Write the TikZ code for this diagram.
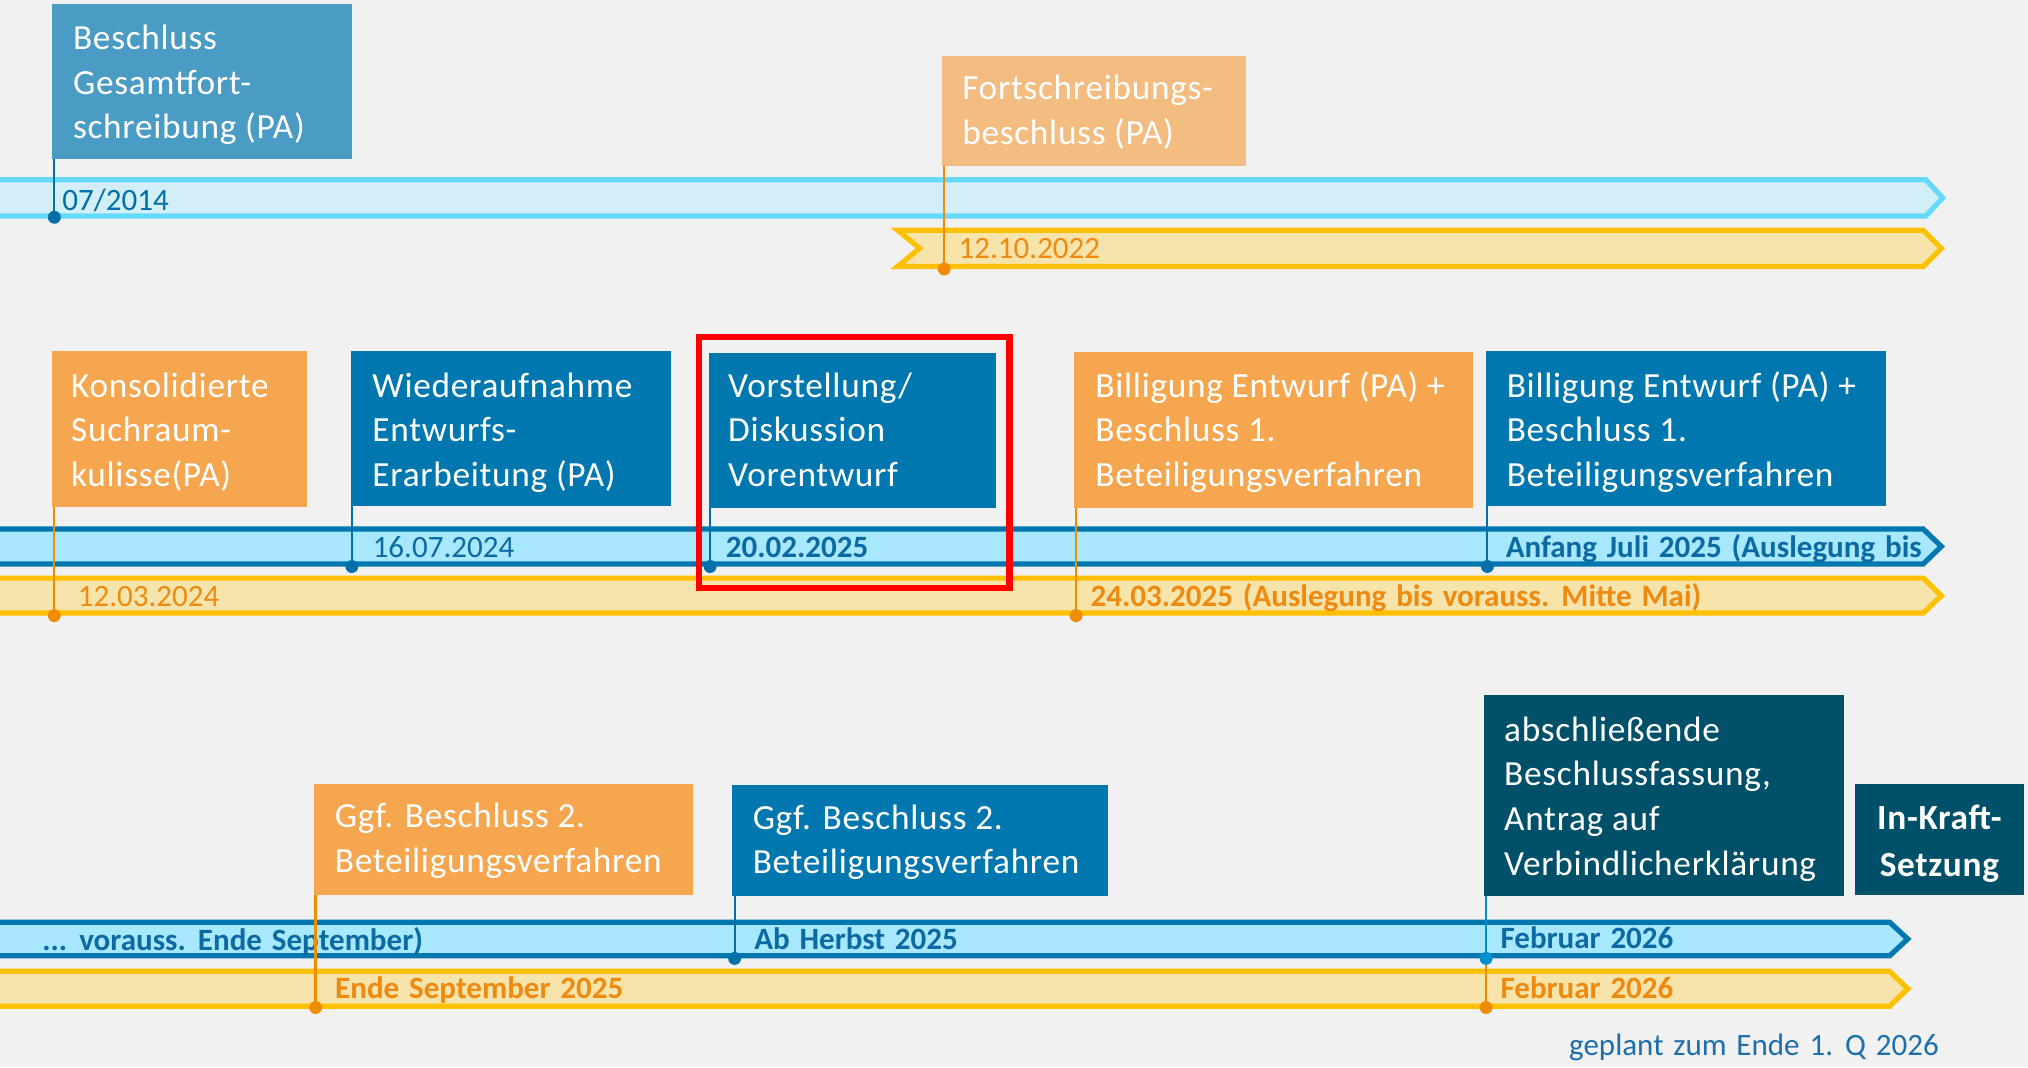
\documentclass[tikz,border=0pt]{standalone}
\usepackage{fontspec}
\setmainfont{Carlito}
\newfontfamily\boxfam{Carlito}[LetterSpace=2.0]
\newfontfamily\datefam{Carlito}[WordSpace=1.4]
\usetikzlibrary{calc}
\definecolor{bg}{HTML}{F1F1F1}
\definecolor{boxA}{HTML}{4A9CC5}
\definecolor{boxB}{HTML}{F3BC80}
\definecolor{boxO}{HTML}{F5A64F}
\definecolor{boxBl}{HTML}{0077AE}
\definecolor{boxD}{HTML}{00506A}
\definecolor{bandLf}{HTML}{D2EEF7}
\definecolor{bandLd}{HTML}{66D9FF}
\definecolor{bandBf}{HTML}{A8E8FF}
\definecolor{bandBd}{HTML}{0077AE}
\definecolor{bandYf}{HTML}{F7E4AA}
\definecolor{bandYd}{HTML}{FFC000}
\definecolor{tBlue}{HTML}{0A6AA1}
\definecolor{tOrange}{HTML}{EF8A11}
\definecolor{tGeplant}{HTML}{1C6FAA}
\definecolor{cBlue}{HTML}{0070A8}
\definecolor{cBlueL}{HTML}{0090D0}
\definecolor{cOrange}{HTML}{F08C00}
\newcommand\boxfont{\boxfam\fontsize{27.3}{34.7}\selectfont}
\newcommand\datefont{\datefam\fontsize{24}{28}\selectfont}
\tikzset{
  tlbox/.style={anchor=north west, inner ysep=0pt, outer sep=0pt, text=white, font=\boxfont},
  datetxt/.style={anchor=base west, inner sep=0pt, font=\datefont},
  bandL/.style={fill=bandLf, draw=bandLd, line width=4},
  bandB/.style={fill=bandBf, draw=bandBd, line width=4},
  bandY/.style={fill=bandYf, draw=bandYd, line width=4},
  conB/.style={draw=cBlue, line width=1.7},
  conBL/.style={draw=cBlueL, line width=1.7},
  conO/.style={draw=cOrange, line width=1.7},
}
% #1 name, #2 x, #3 y, #4 width, #5 height, #6 first baseline offset, #7 left pad, #8 fill, #9 text
\newcommand\mybox[9]{%
  \node[tlbox, fill=#8, inner xsep=#7pt] (#1) at (#2,#3)
  {\vrule width 0pt height #6pt depth \dimexpr #5pt-#6pt\relax
   \makebox[\dimexpr #4pt-#7pt-#7pt\relax][l]{\begin{tabular}[t]{@{}l@{}}#9\end{tabular}}};}
\begin{document}
\begin{tikzpicture}[x=1pt, y=-1pt]
\useasboundingbox (0,0) rectangle (1568,825);
\fill[bg] (0,0) rectangle (1568,825);

% bands
\path[bandL] (-10,139) -- (1489,139) -- (1502,153) -- (1489,167) -- (-10,167) -- cycle;
\path[bandY] (694,178) -- (1487,178) -- (1501,192) -- (1487,206) -- (694,206) -- (711,192) -- cycle;
\path[bandB] (-10,409) -- (1487,409) -- (1501,422.5) -- (1487,436) -- (-10,436) -- cycle;
\path[bandY] (-10,447) -- (1487,447) -- (1501,460.5) -- (1487,474) -- (-10,474) -- cycle;
\path[bandB] (-10,713) -- (1461,713) -- (1475,726) -- (1461,739) -- (-10,739) -- cycle;
\path[bandY] (-10,751) -- (1461,751) -- (1475,764.5) -- (1461,778) -- (-10,778) -- cycle;

% boxes
\mybox{b1}{40}{3}{232}{120}{35}{16.5}{boxA}{Beschluss\\Gesamtfort-\\schreibung (PA)}
\mybox{b2}{728}{43}{235}{85}{34}{16}{boxB}{Fortschreibungs-\\beschluss (PA)}
\mybox{b3}{40}{271}{197}{121}{36}{15}{boxO}{Konsolidierte\\Suchraum-\\kulisse(PA)}
\mybox{b4}{271}{271}{248}{120}{36}{17}{boxBl}{Wiederaufnahme\\Entwurfs-\\Erarbeitung (PA)}
\mybox{b5}{548}{273}{222}{120}{34}{15}{boxBl}{Vorstellung/\\Diskussion\\Vorentwurf}
\mybox{b6}{830}{272}{309}{121}{35}{17}{boxO}{Billigung Entwurf (PA) +\\Beschluss 1.\\Beteiligungsverfahren}
\mybox{b7}{1149}{271}{309}{120}{36}{16}{boxBl}{Billigung Entwurf (PA) +\\Beschluss 1.\\Beteiligungsverfahren}
\mybox{b8}{243}{606}{293}{86}{34}{16}{boxO}{Ggf. Beschluss 2.\\Beteiligungsverfahren}
\mybox{b9}{566}{607}{291}{86}{34}{16}{boxBl}{Ggf. Beschluss 2.\\Beteiligungsverfahren}
\mybox{b10}{1147}{537}{279}{156}{36}{16}{boxD}{abschließende\\Beschlussfassung,\\Antrag auf\\Verbindlicherklärung}
\node[tlbox, fill=boxD, inner xsep=0pt, font=\boxfam\fontsize{27.3}{37}\selectfont\bfseries] (b11) at (1434,606)
  {\vrule width 0pt height 35pt depth 51pt\makebox[131pt][c]{\begin{tabular}[t]{@{}c@{}}In-Kraft-\\Setzung\end{tabular}}};

% highlight
\draw[red, line width=5] (540.5,260.5) rectangle (780.5,454.5);

% band texts
\node[datetxt, text=cBlue] (t1) at (48,163) {07/2014};
\node[datetxt, text=tOrange] (t2) at (741,200) {12.10.2022};
\node[datetxt, text=tOrange] (t3) at (60,469) {12.03.2024};
\node[datetxt, text=tBlue] (t4) at (288,431) {16.07.2024};
\node[datetxt, text=tBlue, font=\datefont\bfseries] (t5) at (561,431) {20.02.2025};
\node[datetxt, text=tOrange, font=\datefont\bfseries] (t6) at (843,469) {24.03.2025 (Auslegung bis vorauss. Mitte Mai)};
\node[datetxt, text=tBlue, font=\datefont\bfseries] (t7) at (1164,431) {Anfang Juli 2025 (Auslegung bis};
\node[datetxt, text=tBlue, font=\datefont\bfseries] (t8) at (32.5,735) {... vorauss. Ende September)};
\node[datetxt, text=tBlue, font=\datefont\bfseries] (t9) at (583,734) {Ab Herbst 2025};
\node[datetxt, text=tOrange, font=\datefont\bfseries] (t10) at (259,772) {Ende September 2025};
\node[datetxt, text=tBlue, font=\datefont\bfseries] (t11) at (1160,733) {Februar 2026};
\node[datetxt, text=tOrange, font=\datefont\bfseries] (t12) at (1160,772) {Februar 2026};
\node[datetxt, text=tGeplant] (t13) at (1213,816) {geplant zum Ende 1. Q 2026};

% connectors
\coordinate (p1) at (42,168);
\coordinate (p2) at (730,208);
\coordinate (p3) at (42,476);
\coordinate (p4) at (272,438);
\coordinate (p5) at (549,438);
\coordinate (p6) at (832,476);
\coordinate (p7) at (1150,438);
\coordinate (p8) at (244,779);
\coordinate (p9) at (568,741);
\coordinate (p10) at (1149,741);
\coordinate (p11) at (1149,779);

\draw[conB] (b1.south west -| p1) -- (p1);
\draw[conO] (b2.south west -| p2) -- (p2);
\draw[conO] (b3.south west -| p3) -- (p3);
\draw[conB] (b4.south west -| p4) -- (p4);
\draw[conB] (b5.south west -| p5) -- (p5);
\draw[conO] (b6.south west -| p6) -- (p6);
\draw[conB] (b7.south west -| p7) -- (p7);
\draw[conO] (b8.south west -| p8) -- (p8);
\draw[conB] (b9.south west -| p9) -- (p9);
\draw[conBL] (b10.south west -| p10) -- (p10);
\draw[conO] (p10) -- (p11);

\foreach \p in {p1,p4,p5,p7,p9} \fill[cBlue] (\p) circle[radius=5];
\foreach \p in {p2,p3,p6,p8,p11} \fill[cOrange] (\p) circle[radius=5];
\fill[cBlueL] (p10) circle[radius=5];
\end{tikzpicture}
\end{document}
